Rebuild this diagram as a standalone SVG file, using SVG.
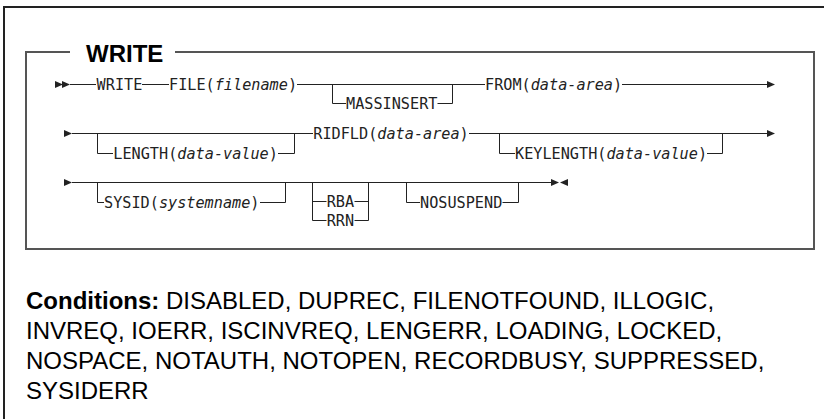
<svg xmlns="http://www.w3.org/2000/svg" width="824" height="419" viewBox="0 0 824 419">
<style>
.ln{stroke:#222;stroke-width:1;fill:none}
.frame{stroke:#222;stroke-width:2;fill:none}
.box{stroke:#555;stroke-width:2;fill:none}
.kw{font-family:"DejaVu Sans Mono","Liberation Mono",monospace;font-size:15.2px;fill:#222}
.it{font-style:italic}
.title{font-family:"Liberation Sans",Arial,sans-serif;font-weight:bold;font-size:24px;fill:#000}
.cond{font-family:"Liberation Sans",Arial,sans-serif;font-size:24px;fill:#000}
.ah{fill:#222}
</style>
<rect width="824" height="419" fill="#fff"/>
<g id="frames">
<path class="frame" d="M4,419 V7 H824"/>
<path class="box" d="M70,52 H26 V249 H814 V52 H175"/>
<text class="title" x="86" y="61.5">WRITE</text>
</g>
<g id="connectors">
<!-- row 1 -->
<polygon class="ah" points="55,81 63,84.5 55,88"/>
<polygon class="ah" points="62,81 70,84.5 62,88"/>
<path class="ln" d="M70,84.5 H96 M142,84.5 H169 M297,84.5 H485 M622,84.5 H768"/>
<polygon class="ah" points="767,81 775,84.5 767,88"/>
<path class="ln" d="M332.5,84.5 V103.5 H346 M437.5,103.5 H452.5 V84.5"/>
<!-- row 2 -->
<polygon class="ah" points="64,130 72,133.5 64,137"/>
<path class="ln" d="M72,133.5 H313 M469,133.5 H768"/>
<polygon class="ah" points="767,130 775,133.5 767,137"/>
<path class="ln" d="M97.5,133.5 V153.5 H113 M278,153.5 H294.5 V133.5"/>
<path class="ln" d="M499.5,133.5 V153.5 H515 M707,153.5 H722.5 V133.5"/>
<!-- row 3 -->
<polygon class="ah" points="64,179 72,182.5 64,186"/>
<path class="ln" d="M72,182.5 H551"/>
<polygon class="ah" points="551,179 559,182.5 551,186"/>
<polygon class="ah" points="568,179 560,182.5 568,186"/>
<path class="ln" d="M97.5,182.5 V202.5 H104 M260,202.5 H285.5 V182.5"/>
<path class="ln" d="M312.5,182.5 V220.5 H326.5 M312.5,201.5 H326.5 M354.5,201.5 H368.5 M354.5,220.5 H368.5 V182.5"/>
<path class="ln" d="M406.5,182.5 V202.5 H420 M502.5,202.5 H518.5 V182.5"/>
</g>
<g id="n-write"><text class="kw" x="96.6" y="90">WRITE</text></g>
<g id="n-file"><text class="kw" x="169" y="90">FILE(<tspan class="it">filename</tspan>)</text></g>
<g id="n-massinsert"><text class="kw" x="346" y="109">MASSINSERT</text></g>
<g id="n-from"><text class="kw" x="485" y="90">FROM(<tspan class="it">data-area</tspan>)</text></g>
<g id="n-length"><text class="kw" x="113.3" y="159">LENGTH(<tspan class="it">data-value</tspan>)</text></g>
<g id="n-ridfld"><text class="kw" x="313.3" y="139">RIDFLD(<tspan class="it">data-area</tspan>)</text></g>
<g id="n-keylength"><text class="kw" x="515" y="159">KEYLENGTH(<tspan class="it">data-value</tspan>)</text></g>
<g id="n-sysid"><text class="kw" x="104" y="208">SYSID(<tspan class="it">systemname</tspan>)</text></g>
<g id="n-rba"><text class="kw" x="326.7" y="207">RBA</text></g>
<g id="n-rrn"><text class="kw" x="326.7" y="226">RRN</text></g>
<g id="n-nosuspend"><text class="kw" x="420" y="208">NOSUSPEND</text></g>
<g id="conditions">
<text class="cond" x="26" y="309"><tspan font-weight="bold">Conditions:</tspan> DISABLED, DUPREC, FILENOTFOUND, ILLOGIC,</text>
<text class="cond" x="26" y="339">INVREQ, IOERR, ISCINVREQ, LENGERR, LOADING, LOCKED,</text>
<text class="cond" x="26" y="369">NOSPACE, NOTAUTH, NOTOPEN, RECORDBUSY, SUPPRESSED,</text>
<text class="cond" x="26" y="399">SYSIDERR</text>
</g>
</svg>
